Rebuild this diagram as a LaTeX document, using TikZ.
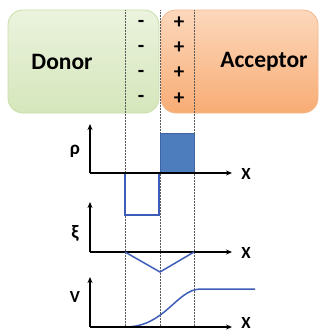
\documentclass[tikz,border=0pt]{standalone}
\usepackage{fontspec}
\setmainfont{Carlito}
\usetikzlibrary{arrows.meta}
\definecolor{dtop}{HTML}{EBF3DE}
\definecolor{dbot}{HTML}{D5E6BB}
\definecolor{dbord}{HTML}{C9DEA8}
\definecolor{atop}{HTML}{FCD8BC}
\definecolor{abot}{HTML}{F8AC74}
\definecolor{abord}{HTML}{F3B88C}
\definecolor{plotblue}{HTML}{3E5DB8}
\definecolor{fillblue}{HTML}{4D7DBD}
\definecolor{fillbord}{HTML}{3C64A0}
\tikzset{
  x=1pt, y=-1pt,
  region/.style={rounded corners=15pt, line width=0.8pt},
  sign/.style={font=\fontsize{21}{21}\selectfont\bfseries, inner sep=0pt},
  biglabel/.style={font=\fontsize{23.5}{23.5}\selectfont\bfseries, inner sep=0pt},
  axlabel/.style={font=\fontsize{17}{17}\selectfont\bfseries, inner sep=0pt},
  greek/.style={font=\fontsize{19}{19}\selectfont\bfseries, inner sep=0pt},
  axis/.style={line width=1.4pt, -{Stealth[length=6pt,width=5pt]}},
  guide/.style={gray!70!black, line width=0.5pt, densely dotted},
  curve/.style={plotblue, line width=1.5pt}
}
\begin{document}
\begin{tikzpicture}
\useasboundingbox (0,0) rectangle (320,332);
\fill[white] (0,0) rectangle (320,332);
% regions
\shade[region, top color=dtop, bottom color=dbot, draw=dbord] (8,10) rectangle (159,113);
\shade[region, top color=atop, bottom color=abot, draw=abord] (161,10) rectangle (318,113);
\node[biglabel] (donor) at (62,62) {Donor};
\node[biglabel] (acceptor) at (264,62) {Acceptor};
% signs
\foreach \i/\yy in {1/24,2/49,3/74,4/99} {
  \node[sign] (m\i) at (141,\yy) {-};
}
\foreach \i/\yy in {1/23,2/48,3/73,4/99} {
  \node[sign] (p\i) at (179,\yy) {+};
}
% guide lines
\draw[guide] (125,10) -- (125,328);
\draw[guide] (160,10) -- (160,328);
\draw[guide] (194,10) -- (194,328);
% rho plot
\coordinate (r0) at (90,173);
\draw[fill=white, draw=plotblue, line width=1.3pt] (125,173) rectangle (159,215);
\draw[fill=fillblue, draw=fillbord, line width=0.8pt] (160,133) rectangle (194,173);
\draw[axis] (r0) -- (90,124);
\draw[axis] (r0) -- (232,173);
\node[greek] (rho) at (75,151) {ρ};
\node[axlabel] (rx) at (246,174) {X};
% xi plot
\coordinate (e0) at (90,252);
\draw[axis] (e0) -- (90,202);
\draw[axis] (e0) -- (232,252);
\draw[curve] (125,252) -- (160,272) -- (194,252);
\node[greek] (xi) at (75,233) {ξ};
\node[axlabel] (ex) at (246,253) {X};
% V plot
\coordinate (v0) at (90,327);
\draw[curve] (90,327) -- (125,327) .. controls (165,327) and (176,290) .. (200,289) -- (255,289);
\draw[axis] (v0) -- (90,277);
\draw[axis] (v0) -- (232,327);
\node[axlabel] (vl) at (75,297) {V};
\node[axlabel] (vx) at (246,323) {X};
\end{tikzpicture}
\end{document}
